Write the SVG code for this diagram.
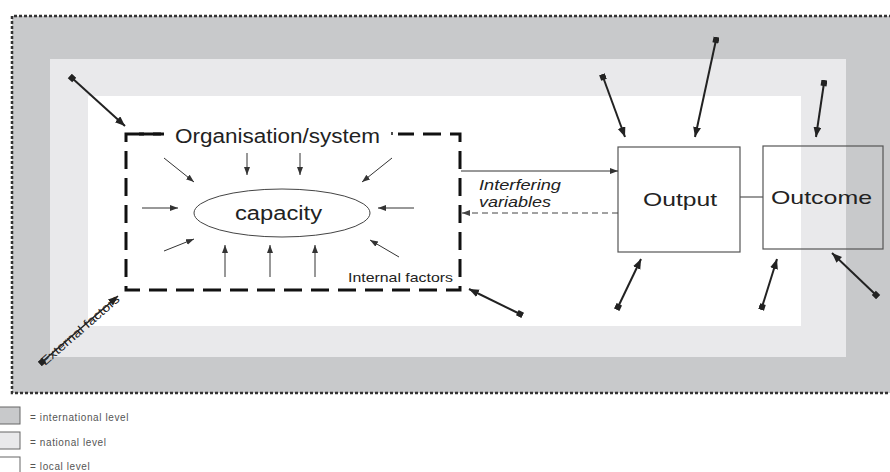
<svg xmlns="http://www.w3.org/2000/svg" width="890" height="472" viewBox="0 0 890 472">
<defs>
<style>
.t{font-family:"Liberation Sans",Arial,sans-serif;fill:#222}
.ext{stroke:#222;stroke-width:2;fill:none;marker-start:url(#sq);marker-end:url(#ah)}
.int{stroke:#333;stroke-width:1;fill:none;marker-end:url(#sh)}
.box{fill:#fff;stroke:#555;stroke-width:1.2}
.leg{font-family:"Liberation Sans",Arial,sans-serif;font-size:10px;fill:#555;letter-spacing:0.6px}
</style>
<marker id="ah" markerUnits="userSpaceOnUse" markerWidth="12" markerHeight="10" refX="10" refY="4" orient="auto"><path d="M0,0 L10,4 L0,8 Z" fill="#222"/></marker>
<marker id="sq" markerUnits="userSpaceOnUse" markerWidth="8" markerHeight="8" refX="3" refY="3" orient="auto"><rect x="0" y="0" width="6" height="6" fill="#222"/></marker>
<marker id="sh" markerUnits="userSpaceOnUse" markerWidth="10" markerHeight="8" refX="8" refY="3" orient="auto"><path d="M0,0 L8,3 L0,6 Z" fill="#333"/></marker>
<marker id="sh2" markerUnits="userSpaceOnUse" markerWidth="10" markerHeight="8" refX="8" refY="3" orient="auto"><path d="M0,0 L8,3 L0,6 Z" fill="#444"/></marker>
</defs>

<g id="levels">
<rect x="12" y="16" width="880" height="377" fill="#c8c9cb"/>
<rect x="50" y="59" width="796" height="298" fill="#e9e9eb"/>
<rect x="88" y="96" width="713" height="230" fill="#fff"/>
<path d="M892,16 H12 V393 H892" fill="none" stroke="#333" stroke-width="2.5" stroke-dasharray="3 2"/>
</g>

<g id="organisation">
<rect x="126" y="134" width="334" height="156" fill="none" stroke="#111" stroke-width="3" stroke-dasharray="18 9"/>
<rect x="164" y="126" width="234" height="14" fill="#fff"/>
<line x1="139" y1="134" x2="161" y2="134" stroke="#111" stroke-width="3"/>
<line x1="392" y1="132" x2="392" y2="135" stroke="#111" stroke-width="1.5"/>
<text class="t" x="175" y="143" font-size="20" textLength="205" lengthAdjust="spacingAndGlyphs">Organisation/system</text>
<text class="t" x="348" y="282" font-size="13" textLength="105" lengthAdjust="spacingAndGlyphs">Internal factors</text>
</g>

<g id="capacity">
<ellipse cx="282" cy="213" rx="88" ry="24" fill="#fff" stroke="#444" stroke-width="1"/>
<text class="t" x="235" y="220" font-size="20" textLength="87" lengthAdjust="spacingAndGlyphs">capacity</text>
</g>

<g id="output">
<rect class="box" x="618" y="147" width="122" height="105"/>
<text class="t" x="643" y="206" font-size="19" textLength="74" lengthAdjust="spacingAndGlyphs">Output</text>
</g>

<g id="outcome">
<rect x="763" y="146" width="120" height="103" fill="none" stroke="#555" stroke-width="1.2"/>
<text class="t" x="771" y="204" font-size="19" textLength="101" lengthAdjust="spacingAndGlyphs">Outcome</text>
</g>

<g id="connectors">
<line class="int" x1="247" y1="153" x2="247" y2="175"/>
<line class="int" x1="300" y1="153" x2="300" y2="175"/>
<line class="int" x1="164" y1="158" x2="194" y2="182"/>
<line class="int" x1="392" y1="158" x2="362" y2="182"/>
<line class="int" x1="142" y1="208" x2="178" y2="208"/>
<line class="int" x1="414" y1="208" x2="378" y2="208"/>
<line class="int" x1="164" y1="251" x2="194" y2="239"/>
<line class="int" x1="399" y1="257" x2="370" y2="240"/>
<line class="int" x1="225" y1="277" x2="225" y2="245"/>
<line class="int" x1="270" y1="277" x2="270" y2="245"/>
<line class="int" x1="315" y1="277" x2="315" y2="245"/>

<line x1="461" y1="171" x2="618" y2="171" stroke="#333" stroke-width="1" marker-end="url(#sh)"/>
<line x1="618" y1="213" x2="462" y2="213" stroke="#444" stroke-width="1" stroke-dasharray="6 4" marker-end="url(#sh2)"/>
<text class="t" x="479" y="190" font-size="14" font-style="italic" textLength="82" lengthAdjust="spacingAndGlyphs">Interfering</text>
<text class="t" x="479" y="207" font-size="14" font-style="italic" textLength="72" lengthAdjust="spacingAndGlyphs">variables</text>

<line x1="740" y1="197" x2="763" y2="197" stroke="#555" stroke-width="1.2"/>

<line class="ext" x1="72" y1="78" x2="125" y2="126"/>
<line class="ext" x1="603" y1="77" x2="625" y2="137"/>
<line class="ext" x1="716" y1="40" x2="695" y2="137"/>
<line class="ext" x1="824" y1="83" x2="816" y2="137"/>
<line class="ext" x1="618" y1="307" x2="641" y2="259"/>
<line class="ext" x1="762" y1="307" x2="777" y2="259"/>
<line class="ext" x1="876" y1="295" x2="832" y2="253"/>
<line class="ext" x1="520" y1="314" x2="469" y2="289"/>
<line x1="42" y1="362" x2="118" y2="296" stroke="#222" stroke-width="1.5" marker-start="url(#sq)" marker-end="url(#ah)"/>
<text class="t" x="0" y="0" font-size="12" textLength="100" lengthAdjust="spacingAndGlyphs" transform="translate(45,366) rotate(-41)">External factors</text>
</g>

<g id="legend">
<rect x="-2" y="407" width="22" height="17" fill="#c8c9cb" stroke="#666" stroke-width="1"/>
<rect x="-2" y="432" width="22" height="17" fill="#e9e9eb" stroke="#666" stroke-width="1"/>
<rect x="-2" y="457" width="22" height="17" fill="#fff" stroke="#666" stroke-width="1"/>
<text class="leg" x="30" y="421">= international level</text>
<text class="leg" x="30" y="446">= national level</text>
<text class="leg" x="30" y="470">= local level</text>
</g>
</svg>
